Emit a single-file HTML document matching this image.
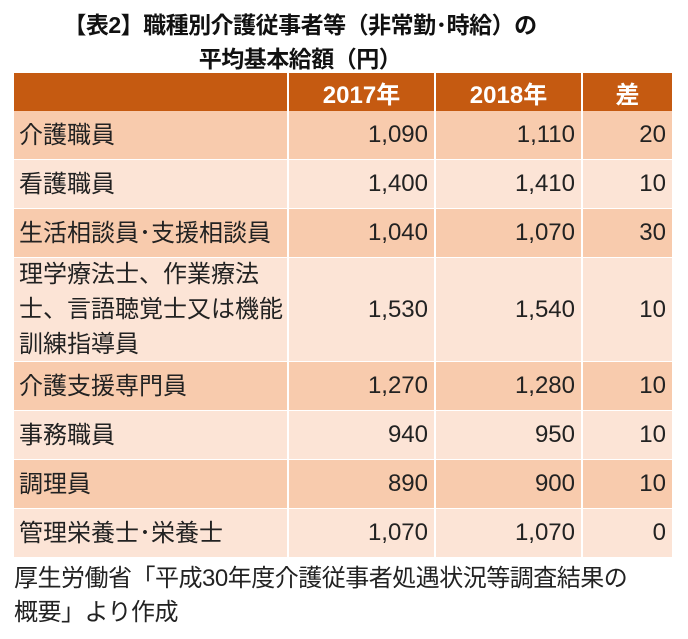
<!DOCTYPE html>
<html><head><meta charset="utf-8"><style>
body{margin:0;width:688px;height:639px;background:#fff;position:relative;overflow:hidden;font-family:"Liberation Sans","Noto Sans CJK JP",sans-serif;color:#222}
.t{position:absolute;left:0;width:680px;text-align:center;font-weight:bold;font-size:23px;color:#111;letter-spacing:-0.5px}
.c{position:absolute;box-sizing:border-box;font-size:24px;display:flex;align-items:center}
.h{background:#c55a11;color:#fff;font-weight:bold;justify-content:center;font-size:24px}
.n{justify-content:flex-end;padding-right:6px}
.l{padding-left:5px;line-height:35px}
.note{position:absolute;left:14px;font-size:24px;color:#222;letter-spacing:-0.5px}
</style></head><body>
<div class="t" style="top:6px;left:-40px">【表2】職種別介護従事者等（非常勤･時給）の</div>
<div class="t" style="top:40px;left:-40px">平均基本給額（円）</div>
<div id="tbl"></div>
<div class="note" style="top:562px;line-height:34px">厚生労働省「平成30年度介護従事者処遇状況等調査結果の<br>概要」より作成</div>
<script>
const jobs=["介護職員","看護職員","生活相談員･支援相談員","理学療法士、作業療法<br>士、言語聴覚士又は機能<br>訓練指導員","介護支援専門員","事務職員","調理員","管理栄養士･栄養士"];
const v2017=[1090,1400,1040,1530,1270,940,890,1070];
const v2018=[1110,1410,1070,1540,1280,950,900,1070];
const headers=["","2017年","2018年","差"];
const cols=[[14,273],[289,145],[436,145],[583,89]];
const heights=[49,49,49,104,49,49,49,49];
function cell(x,y,w,h,cls,html,bg,name){
  const d=document.createElement('div');
  d.className='c '+cls;
  d.style.cssText=`left:${x}px;top:${y}px;width:${w}px;height:${h}px;`+(bg?`background:${bg};`:'');
  d.innerHTML=html;
  
  
  document.body.appendChild(d);
}
headers.forEach((t,i)=>cell(cols[i][0],73,cols[i][1],38,'h',t,null,'header-cell'));
let y=111;
jobs.forEach((j,r)=>{
  const h=heights[r];
  const bg=r%2===0?'#f8cbad':'#fce4d6';
  const fmt=v=>v.toLocaleString('en-US');
  cell(cols[0][0],y,cols[0][1],h-1,'l',j,bg,'job-name-cell');
  cell(cols[1][0],y,cols[1][1],h-1,'n',fmt(v2017[r]),bg,'value-2017-cell');
  cell(cols[2][0],y,cols[2][1],h-1,'n',fmt(v2018[r]),bg,'value-2018-cell');
  cell(cols[3][0],y,cols[3][1],h-1,'n',String(v2018[r]-v2017[r]),bg,'difference-cell');
  y+=h;
});
</script>
</body></html>
